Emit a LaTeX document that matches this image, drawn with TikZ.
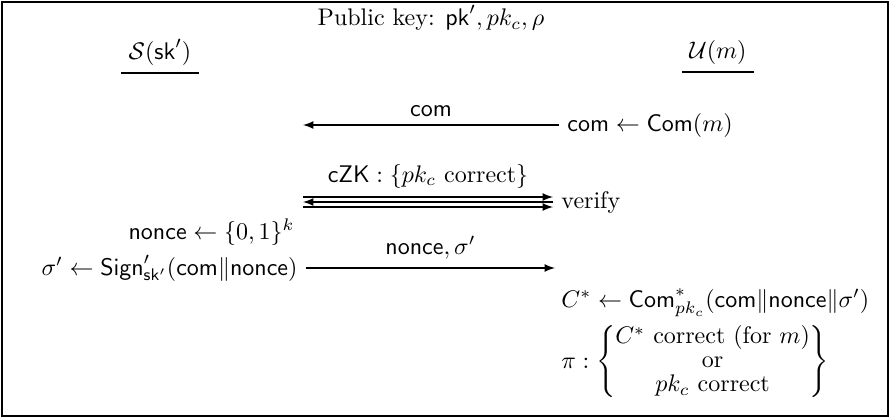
\documentclass[tikz,border=0pt]{standalone}
\usepackage{amsmath}
\usepackage{tikz}
\usetikzlibrary{positioning}
\usetikzlibrary{arrows}

\begin{document}
\begin{tikzpicture}[x=0.5pt,y=-0.5pt,every node/.style={scale=1.2}]

\tikzset{msg/.style={-latex, line width=0.8pt},
	party/.style={inner sep=3pt},
	leftcol/.style={anchor=east},
	rightcol/.style={anchor=west}
}

\useasboundingbox (0,0) rectangle (891,419);
\draw[line width=1pt] (2,2) rectangle (888,416);

\node (pubkey) at (431,18) {Public key: $\mathsf{pk}', pk_c, \rho$};
\node[party] (sender) at (160,52) {$\mathcal{S}(\mathsf{sk}')$};
\node[party] (user) at (718,52) {$\mathcal{U}(m)$};
\draw[line width=1pt] (sender.south west) -- (sender.south east);
\draw[line width=1pt] (user.south west) -- (user.south east);

% commitment
\node[rightcol] (commit) at (559,125) {$\mathsf{com} \leftarrow \mathsf{Com}(m)$};
\coordinate (comL) at (303,125);
\draw[msg] (commit.west) -- node[above] {$\mathsf{com}$} (comL);

% zero knowledge
\node[rightcol] (verify) at (553,202) {verify};
\coordinate (zkL1) at (303,197);
\coordinate (zkL2) at (303,202);
\coordinate (zkL3) at (303,207);
\draw[msg] (zkL1) -- node[above] {$\mathsf{cZK} : \{pk_c \text{ correct}\}$} (zkL1 -| verify.west);
\draw[msg] (zkL2 -| verify.west) -- (zkL2);
\draw[msg] (zkL3) -- (zkL3 -| verify.west);

% signature
\node[leftcol] (nonce) at (303,232) {$\mathsf{nonce} \leftarrow \{0,1\}^k$};
\node[leftcol] (sign) at (306,268) {$\sigma' \leftarrow \mathsf{Sign}'_{\mathsf{sk}'}(\mathsf{com} \| \mathsf{nonce})$};
\coordinate (signR) at (555,268);
\draw[msg] (sign.east) -- node[above] {$\mathsf{nonce}, \sigma'$} (signR);

% proof
\node[rightcol] (cstar) at (553,303) {$C^* \leftarrow \mathsf{Com}^*_{pk_c}(\mathsf{com} \| \mathsf{nonce} \| \sigma')$};
\node[rightcol] (proof) at (553,362) {$\pi : \left\{\begin{array}{@{}c@{}}
	C^* \text{ correct (for } m) \\[-2pt]
	\text{or} \\[-2pt]
	pk_c \text{ correct}
	\end{array}\right\}$};

\end{tikzpicture}
\end{document}
